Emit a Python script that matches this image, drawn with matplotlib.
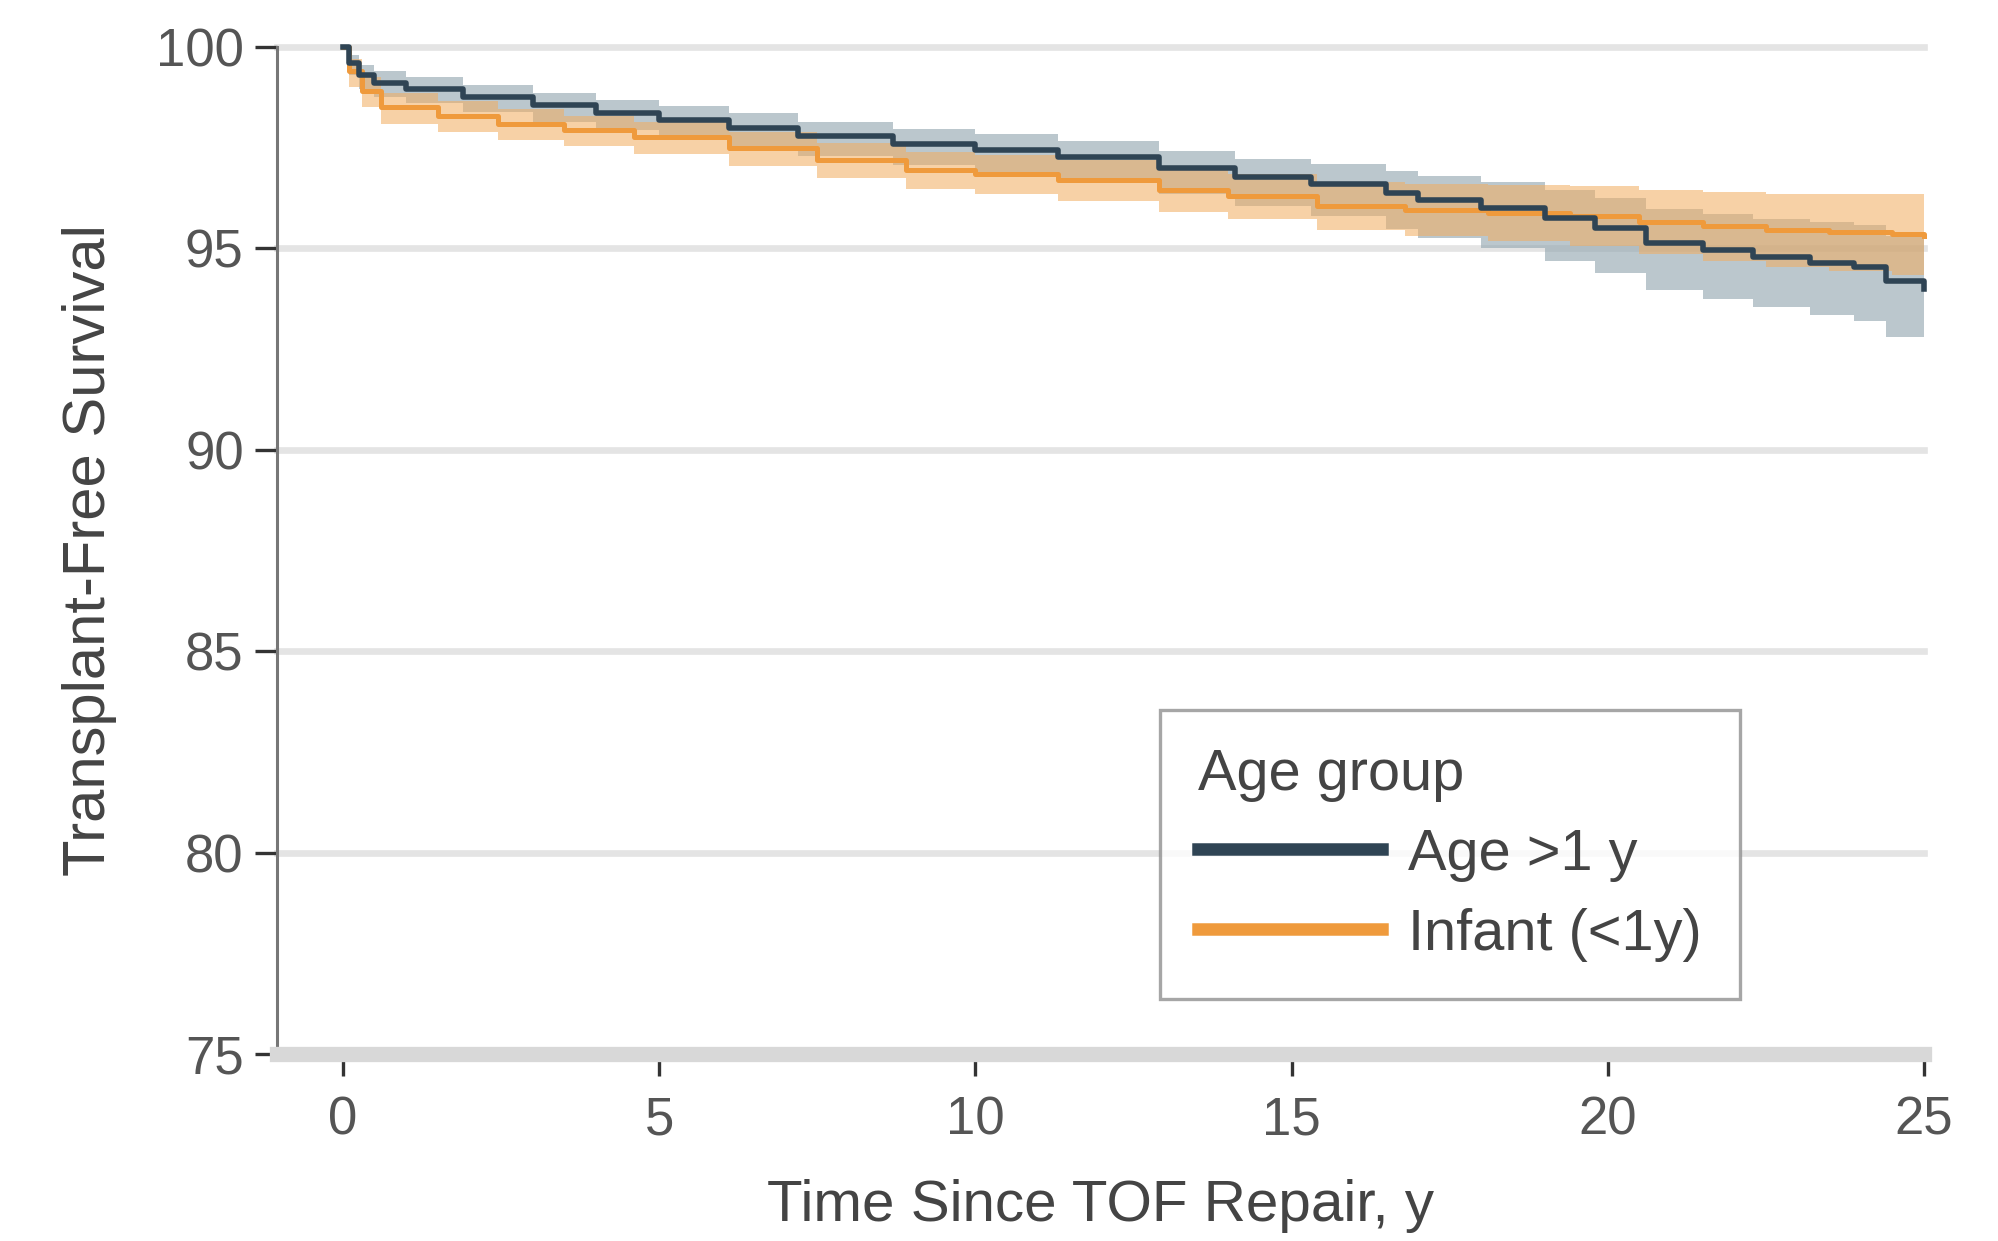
import matplotlib
matplotlib.use("Agg")
import matplotlib.pyplot as plt
from matplotlib.lines import Line2D

plt.rcParams['font.family'] = ['Liberation Sans', 'DejaVu Sans']

# Kaplan-Meier estimates (percent) with 95% CI, by age at repair
older_t = [0, 0.1, 0.25, 0.5, 1.0, 1.9, 3.0, 4.0, 5.0, 6.1, 7.2, 8.7, 10.0, 11.3,
           12.9, 14.1, 15.3, 16.5, 17.0, 18.0, 19.0, 19.8, 20.6, 21.5, 22.3, 23.2,
           23.9, 24.4, 25.0]
older_s = [100, 99.6, 99.3, 99.1, 98.95, 98.76, 98.55, 98.36, 98.2, 98.0, 97.8, 97.6,
           97.45, 97.27, 97.0, 96.77, 96.6, 96.37, 96.2, 96.0, 95.75, 95.5, 95.13,
           94.95, 94.79, 94.65, 94.54, 94.2, 94.0]
older_hi = [100, 99.8, 99.55, 99.4, 99.25, 99.06, 98.85, 98.68, 98.53, 98.35, 98.15,
            97.97, 97.83, 97.67, 97.42, 97.22, 97.1, 96.92, 96.8, 96.65, 96.45, 96.25,
            95.98, 95.85, 95.74, 95.65, 95.59, 95.3, 95.15]
older_lo = [100, 99.3, 98.95, 98.75, 98.6, 98.38, 98.15, 97.94, 97.75, 97.52, 97.3,
            97.08, 96.9, 96.67, 96.35, 96.05, 95.8, 95.47, 95.25, 95.0, 94.7, 94.4,
            93.98, 93.75, 93.54, 93.35, 93.19, 92.8, 92.6]

infant_t = [0, 0.1, 0.3, 0.6, 1.5, 2.45, 3.5, 4.6, 6.1, 7.5, 8.9, 10.0, 11.3, 12.9,
            14.0, 15.4, 16.8, 18.1, 19.4, 20.5, 21.5, 22.5, 23.5, 24.5, 25.0]
infant_s = [100, 99.4, 98.9, 98.5, 98.3, 98.1, 97.95, 97.77, 97.5, 97.2, 96.95, 96.85,
            96.7, 96.45, 96.3, 96.05, 95.95, 95.88, 95.8, 95.65, 95.55, 95.45, 95.4,
            95.35, 95.3]
infant_hi = [100, 99.7, 99.25, 98.85, 98.65, 98.45, 98.3, 98.15, 97.9, 97.62, 97.4,
             97.32, 97.2, 96.97, 96.85, 96.65, 96.6, 96.58, 96.55, 96.45, 96.4, 96.35,
             96.35, 96.35, 96.35]
infant_lo = [100, 99.0, 98.5, 98.1, 97.9, 97.7, 97.55, 97.35, 97.05, 96.75, 96.48,
             96.35, 96.18, 95.9, 95.72, 95.45, 95.3, 95.18, 95.05, 94.85, 94.7, 94.55,
             94.45, 94.35, 94.3]

labels = ['Age >1 y', 'Infant (<1y)']
dark = '#2f4454'
orange = '#ef9a3c'

fig = plt.figure(figsize=(9.995, 6.205), dpi=200)
ax = fig.add_axes([0.1386, 0.1507, 0.8239, 0.8114])

ax.set_xlim(-1.04, 25.0)
ax.set_ylim(75, 100)

# light horizontal grid
for y in range(75, 101, 5):
    ax.axhline(y, color='#e4e4e4', lw=2.4, zorder=0, clip_on=False)

ax.fill_between(older_t, older_lo, older_hi, step='post', color='#8fa3ad',
                alpha=0.6, lw=0, zorder=2)
ax.fill_between(infant_t, infant_lo, infant_hi, step='post', color='#f2ac5e',
                alpha=0.55, lw=0, zorder=3)
ax.step(infant_t, infant_s, where='post', color=orange, lw=1.8, zorder=4, clip_on=False)
ax.step(older_t, older_s, where='post', color=dark, lw=2.0, zorder=5, clip_on=False)

ax.set_xticks([0, 5, 10, 15, 20, 25])
ax.set_yticks([75, 80, 85, 90, 95, 100])
ax.tick_params(axis='x', direction='out', length=8, width=1.2, color='#333333',
               labelsize=19, labelcolor='#555555', pad=7)
ax.tick_params(axis='y', direction='out', length=8, width=1.2, color='#333333',
               labelsize=19, labelcolor='#555555', pad=4)

for side in ['top', 'right']:
    ax.spines[side].set_visible(False)
ax.spines['left'].set_color('#777777')
ax.spines['left'].set_linewidth(1.1)
ax.spines['bottom'].set_color('#d8d8d8')
ax.spines['bottom'].set_linewidth(5.5)

ax.set_xlabel('Time Since TOF Repair, y', fontsize=21, color='#444444', labelpad=12)
ax.set_ylabel('Transplant-Free Survival', fontsize=21.5, color='#444444', labelpad=14)

handles = [Line2D([], [], color=dark, lw=4.5),
           Line2D([], [], color=orange, lw=4.5)]
leg = fig.legend(handles, labels, title='Age group', loc='upper left',
                 bbox_to_anchor=(1160 / 1999, 1 - 710 / 1241), borderaxespad=0,
                 fontsize=20.8, title_fontsize=20.8, alignment='left', frameon=True,
                 fancybox=False, edgecolor='#909090', handlelength=3.2,
                 handletextpad=0.45, labelspacing=0.45, borderpad=0.65)
leg.get_frame().set_linewidth(1.2)
for txt in leg.get_texts():
    txt.set_color('#444444')
leg.get_title().set_color('#444444')

fig.savefig('out.png', dpi=200)
